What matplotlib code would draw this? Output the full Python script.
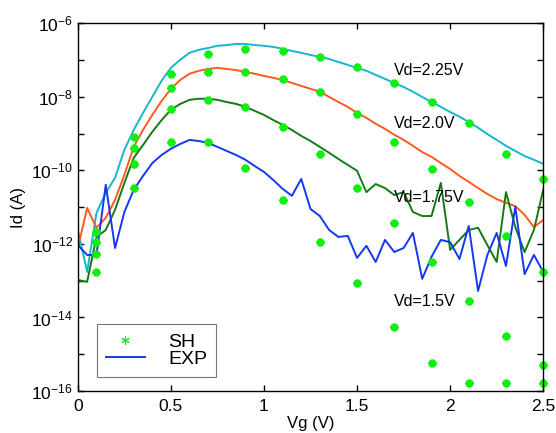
import matplotlib
matplotlib.use("Agg")
import matplotlib.pyplot as plt
import numpy as np
from matplotlib.lines import Line2D
from matplotlib.ticker import FixedLocator, NullFormatter

plt.rcParams["font.family"] = ["Liberation Sans", "DejaVu Sans"]

# Vg sweep for measured curves (step 0.05 V)
vg_exp = np.round(np.arange(0, 2.5001, 0.05), 2)

# measured Id, stored as log10(Id [A])
exp_225 = [-11.62, -12.76, -11.16, -10.61, -10.20, -9.44, -8.90, -8.44, -8.00, -7.56,
           -7.21, -6.99, -6.80, -6.72, -6.67, -6.61, -6.59, -6.56, -6.56, -6.59,
           -6.61, -6.64, -6.69, -6.75, -6.80, -6.86, -6.91, -6.97, -7.05, -7.13,
           -7.21, -7.29, -7.40, -7.51, -7.62, -7.73, -7.86, -8.00, -8.14, -8.27,
           -8.41, -8.54, -8.68, -8.84, -9.01, -9.17, -9.33, -9.47, -9.61, -9.71,
           -9.82]
exp_20 = [-12.11, -11.02, -11.56, -11.29, -10.80, -10.12, -9.36, -8.90, -8.49, -8.11,
          -7.78, -7.54, -7.37, -7.29, -7.24, -7.21, -7.24, -7.27, -7.32, -7.37,
          -7.43, -7.48, -7.54, -7.62, -7.70, -7.78, -7.86, -8.00, -8.14, -8.27,
          -8.44, -8.57, -8.73, -8.87, -9.03, -9.17, -9.33, -9.50, -9.63, -9.80,
          -9.96, -10.15, -10.31, -10.48, -10.64, -10.78, -10.88, -10.97, -11.21, -11.54,
          -11.35]
exp_175 = [-12.98, -13.03, -11.81, -11.62, -11.07, -10.34, -9.66, -9.31, -8.95, -8.63,
           -8.35, -8.19, -8.08, -8.05, -8.05, -8.08, -8.14, -8.19, -8.27, -8.38,
           -8.49, -8.63, -8.76, -8.90, -9.06, -9.20, -9.36, -9.52, -9.69, -9.85,
           -10.01, -10.59, -10.37, -10.48, -10.67, -10.59, -11.13, -11.24, -11.24, -10.34,
           -12.16, -11.89, -11.62, -11.56, -12.03, -12.49, -10.59, -11.54, -12.22, -11.62,
           -10.53]
exp_15 = [-12.03, -12.30, -12.30, -10.39, -12.11, -11.13, -10.53, -10.15, -9.80, -9.58,
          -9.41, -9.28, -9.17, -9.20, -9.25, -9.36, -9.47, -9.58, -9.71, -9.88,
          -10.04, -10.26, -10.50, -10.69, -10.23, -11.05, -11.24, -11.62, -11.81, -11.78,
          -12.38, -12.05, -12.49, -11.89, -12.22, -12.11, -11.70, -12.95, -12.35, -11.89,
          -11.95, -12.41, -11.51, -13.28, -12.30, -11.70, -12.60, -10.99, -12.82, -12.30,
          -12.76]

# simulated (SH) points, log10(Id)
vg_sh = [0.1, 0.3, 0.5, 0.7, 0.9, 1.1, 1.3, 1.5, 1.7, 1.9, 2.1, 2.3, 2.5]
sh_225 = [-11.67, -9.09, -7.37, -6.83, -6.69, -6.75, -6.91, -7.18, -7.62, -8.14, -8.71, -9.55, -10.23]
sh_20 = [-11.95, -9.39, -7.76, -7.32, -7.32, -7.51, -7.86, -8.46, -9.22, -9.96, -10.86, -11.78, -12.76]
sh_175 = [-12.27, -9.82, -8.33, -8.08, -8.27, -8.82, -9.55, -10.48, -11.43, -12.49, -13.55, -14.50, -15.29]
sh_15 = [-12.76, -10.48, -9.22, -9.22, -9.93, -10.80, -11.95, -13.06, -14.26, -15.24, -15.78, -15.78, -15.78]

labels = ["Vd=2.25V", "Vd=2.0V", "Vd=1.75V", "Vd=1.5V"]
label_pos = [(1.7, -7.27), (1.7, -8.73), (1.7, -10.73), (1.7, -13.57)]

colors = ["#12b9c9", "#ff5a1e", "#147a14", "#1438f0"]
sh_green = "#11ee11"

fig = plt.figure(figsize=(5.56, 4.33), dpi=100)
ax = fig.add_axes([0.140, 0.097, 0.837, 0.849])

for y, c in zip([exp_225, exp_20, exp_175, exp_15], colors):
    ax.plot(vg_exp, 10.0 ** np.array(y), color=c, lw=1.4)

for y in [sh_225, sh_20, sh_175, sh_15]:
    ax.plot(vg_sh, 10.0 ** np.array(y), ls="none", marker=(6, 2, 0), ms=5.5,
            mew=2.6, color=sh_green, clip_on=False)

for t, (x, y) in zip(labels, label_pos):
    ax.text(x, 10.0 ** y, t, fontsize=11.5, va="center", ha="left")

ax.set_yscale("log")
ax.set_xlim(0, 2.5)
ax.set_ylim(1e-16, 1e-6)
ax.xaxis.set_major_locator(FixedLocator([0, 0.5, 1, 1.5, 2, 2.5]))
ax.set_xticklabels(["0", "0.5", "1", "1.5", "2", "2.5"])
ax.yaxis.set_major_locator(FixedLocator([1e-16, 1e-14, 1e-12, 1e-10, 1e-8, 1e-6]))
ax.yaxis.set_minor_locator(FixedLocator([1e-15, 1e-13, 1e-11, 1e-9, 1e-7]))
ax.yaxis.set_minor_formatter(NullFormatter())
ax.tick_params(which="both", direction="in", top=True, right=True,
               labelsize=12.5, length=4, width=1)
ax.tick_params(axis="x", pad=6)
for s in ax.spines.values():
    s.set_linewidth(1.0)

ax.set_xlabel("Vg (V)", fontsize=12, labelpad=1)
ax.set_ylabel("Id (A)", fontsize=12, labelpad=4)

h_sh = Line2D([], [], ls="none", marker=(6, 2, 0), ms=6, mew=0.8, color=sh_green)
h_exp = Line2D([], [], color=colors[3], lw=1.4)
leg = ax.legend([h_sh, h_exp], ["SH", "EXP"], loc="lower left",
                bbox_to_anchor=(0.041, 0.038), fontsize=14, fancybox=False,
                handlelength=2.0, handletextpad=1.2, labelspacing=0.0,
                borderpad=0.45, borderaxespad=0, framealpha=1)
leg.get_frame().set_edgecolor("#777777")
leg.get_frame().set_linewidth(0.8)

fig.savefig("out.png", dpi=100)
